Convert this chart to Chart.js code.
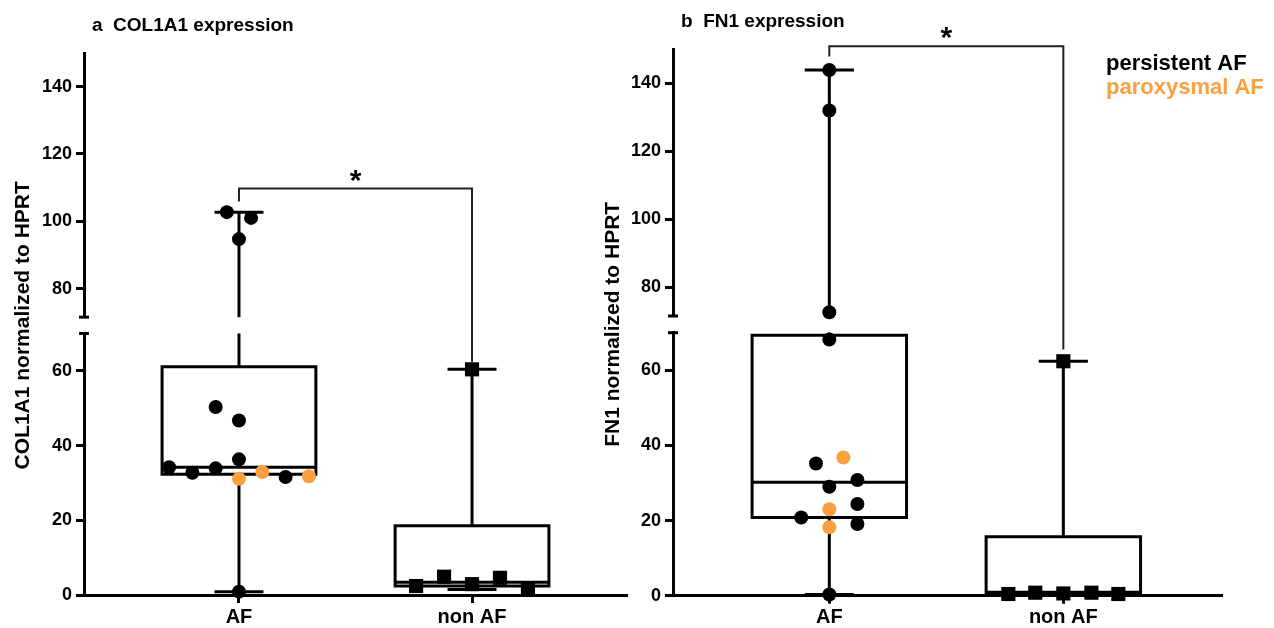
<!DOCTYPE html>
<html>
<head>
<meta charset="utf-8">
<script src="https://cdn.jsdelivr.net/npm/chart.js@4.4.1/dist/chart.umd.min.js"></script>
<style>
html,body{margin:0;padding:0;background:#fff;}
#wrap{position:relative;width:1274px;height:628px;overflow:hidden;background:#fff;}
.panel{position:absolute;top:0;height:628px;}
#pa{left:0;width:640px;}
#pb{left:590px;width:684px;}
</style>
</head>
<body>
<div id="wrap">
  <div class="panel" id="pa"><canvas id="ca"></canvas></div>
  <div class="panel" id="pb"><canvas id="cb"></canvas></div>
</div>
<script>
// ---------- data ----------
const categories = ['AF', 'non AF'];
const legendLabels = ['persistent AF', 'paroxysmal AF'];
const yTicksLow = [0, 20, 40, 60];
const yTicksHigh = [80, 100, 120, 140];
const axisBreak = [70, 71.5];   // top of lower segment, bottom of upper segment
const axisTop = 150;

// a  COL1A1
const colHeader = 'a  COL1A1 expression';
const colYTitle = 'COL1A1 normalized to HPRT';
const colAfPersistent = [102.7, 101.0, 94.7, 50.3, 46.7, 36.3, 34.2, 33.9, 32.7, 31.6, 0.9];
const colAfParoxysmal = [31.1, 32.9, 31.8];
const colNonAf = [60.4, 2.4, 4.9, 2.9, 4.6, 1.5];
const colAfBox = [0.9, 32.3, 34.2, 61.1, 102.7];    // min, q1, median, q3, max
const colNonAfBox = [1.5, 2.4, 3.4, 18.5, 60.4];
const colSig = [105.9, 109.7, 62.4];                // left leg end, bar, right leg end

// b  FN1
const fnHeader = 'b  FN1 expression';
const fnYTitle = 'FN1 normalized to HPRT';
const fnAfPersistent = [143.9, 132.0, 72.6, 68.2, 35.2, 29.0, 30.8, 24.4, 20.8, 19.1, 0.3];
const fnAfParoxysmal = [36.8, 23.0, 18.2];
const fnNonAf = [62.4, 0.45, 0.8, 0.6, 0.8, 0.45];
const fnAfBox = [0.3, 20.8, 30.2, 69.3, 143.9];
const fnNonAfBox = [0.3, 0.4, 0.9, 15.7, 62.4];
const fnSig = [147.9, 150.9, 65.5];

// horizontal jitter of the dots (layout only)
const colAfPersistentJitter = [-0.052, 0.052, 0, -0.1, 0, 0, -0.3, -0.1, -0.2, 0.2, 0];
const colAfParoxysmalJitter = [0, 0.1, 0.3];
const colNonAfJitter = [0, -0.24, -0.12, 0, 0.12, 0.24];
const fnAfPersistentJitter = [0, 0, 0, 0, -0.057, 0, 0.12, 0.12, -0.12, 0.12, 0];
const fnAfParoxysmalJitter = [0.06, 0, 0];
const fnNonAfJitter = [0, -0.235, -0.12, 0, 0.12, 0.235];

// ---------- styling ----------
const FONT = "'Liberation Sans', Arial, Helvetica, sans-serif";
const BLACK = '#000000';
const ORANGE = '#F9A13F';
const BOX_HALF = 0.33;
const CAP_HALF = 0.105;

Chart.defaults.font.family = FONT;
Chart.defaults.font.weight = 'bold';
Chart.defaults.color = '#000';

function axisFor(v) { return v <= axisBreak[0] ? 'yLow' : 'yHigh'; }

function lineDs(pts, axis, width, cap, color) {
  return {
    type: 'scatter', showLine: true, data: pts, yAxisID: axis,
    borderColor: color || BLACK, borderWidth: width || 3,
    pointRadius: 0, pointHoverRadius: 0, fill: false, tension: 0,
    borderJoinStyle: 'miter', borderCapStyle: cap || 'butt',
    order: 1, clip: false
  };
}

function splitVertical(x, v0, v1) {
  const lo = Math.min(v0, v1), hi = Math.max(v0, v1);
  if (hi <= axisBreak[0]) return [{axis: 'yLow', pts: [{x, y: lo}, {x, y: hi}]}];
  if (lo >= axisBreak[1]) return [{axis: 'yHigh', pts: [{x, y: lo}, {x, y: hi}]}];
  return [
    {axis: 'yLow', pts: [{x, y: lo}, {x, y: axisBreak[0]}]},
    {axis: 'yHigh', pts: [{x, y: axisBreak[1]}, {x, y: hi}]}
  ];
}

function boxDatasets(c, box) {
  const [mn, q1, med, q3, mx] = box;
  const ds = [];
  ds.push(lineDs([{x: c - BOX_HALF, y: q1}, {x: c + BOX_HALF, y: q1}, {x: c + BOX_HALF, y: q3},
                  {x: c - BOX_HALF, y: q3}, {x: c - BOX_HALF, y: q1}], axisFor(q3), 3, 'square'));
  ds.push(lineDs([{x: c - BOX_HALF, y: med}, {x: c + BOX_HALF, y: med}], axisFor(med)));
  splitVertical(c, mn, q1).forEach(s => ds.push(lineDs(s.pts, s.axis)));
  splitVertical(c, q3, mx).forEach(s => ds.push(lineDs(s.pts, s.axis)));
  ds.push(lineDs([{x: c - CAP_HALF, y: mn}, {x: c + CAP_HALF, y: mn}], axisFor(mn)));
  ds.push(lineDs([{x: c - CAP_HALF, y: mx}, {x: c + CAP_HALF, y: mx}], axisFor(mx)));
  return ds;
}

function pointDatasets(values, jitter, c, color, style, radius) {
  const low = [], high = [];
  values.forEach((v, i) => (axisFor(v) === 'yLow' ? low : high).push({x: c + jitter[i], y: v}));
  return [[low, 'yLow'], [high, 'yHigh']].filter(p => p[0].length).map(([d, ax]) => ({
    type: 'scatter', data: d, yAxisID: ax, showLine: false,
    pointStyle: style, pointRadius: radius, pointHoverRadius: radius,
    pointBackgroundColor: color, pointBorderColor: color, pointBorderWidth: 0,
    order: 0, clip: false
  }));
}

const decor = {
  id: 'decor',
  afterDraw(chart, args, opts) {
    const {ctx, chartArea, scales} = chart;
    const yp = v => (v <= axisBreak[0] ? scales.yLow : scales.yHigh).getPixelForValue(v);
    const axX = scales.yLow.right;
    ctx.save();
    // caps at the axis break
    ctx.strokeStyle = '#000'; ctx.lineWidth = 3; ctx.lineCap = 'butt';
    [[scales.yLow, axisBreak[0]], [scales.yHigh, axisBreak[1]]].forEach(([s, v]) => {
      const y = s.getPixelForValue(v);
      ctx.beginPath(); ctx.moveTo(axX - 5, y); ctx.lineTo(axX + 5, y); ctx.stroke();
    });
    // significance bracket
    const x1 = scales.x.getPixelForValue(1), x2 = scales.x.getPixelForValue(2);
    const [lb, top, rb] = opts.sig;
    ctx.lineWidth = 2; ctx.strokeStyle = '#222'; ctx.lineJoin = 'miter';
    ctx.beginPath();
    ctx.moveTo(x1, yp(lb)); ctx.lineTo(x1, yp(top)); ctx.lineTo(x2, yp(top)); ctx.lineTo(x2, yp(rb));
    ctx.stroke();
    ctx.fillStyle = '#000'; ctx.font = `bold 30px ${FONT}`;
    ctx.textAlign = 'center'; ctx.textBaseline = 'alphabetic';
    ctx.fillText('*', (x1 + x2) / 2, yp(top) + 1);
    // panel header
    ctx.font = `bold 19px ${FONT}`; ctx.textAlign = 'left';
    ctx.fillText(opts.header, chartArea.left + 8, opts.headerBaseline);
    // legend
    if (opts.legend) {
      ctx.font = `bold 22px ${FONT}`;
      ctx.fillStyle = BLACK; ctx.fillText(legendLabels[0], chartArea.right - 116, 69.5);
      ctx.fillStyle = ORANGE; ctx.fillText(legendLabels[1], chartArea.right - 116, 94);
    }
    ctx.restore();
  }
};

function yAxisBase(w) {
  return {
    type: 'linear', axis: 'y', position: 'left', stack: 'y',
    grid: {drawOnChartArea: false, drawTicks: true, tickLength: 8, tickWidth: 3, tickColor: '#000'},
    border: {display: true, width: 3, color: '#000'},
    ticks: {font: {size: 18, weight: 'bold'}, color: '#000', padding: 4},
    afterFit: s => { s.width = w; }
  };
}

function makeChart(id, p) {
  const datasets = [
    ...pointDatasets(p.afP, p.afPJ, 1, BLACK, 'circle', 7),
    ...pointDatasets(p.afX, p.afXJ, 1, ORANGE, 'circle', 7),
    ...pointDatasets(p.non, p.nonJ, 2, BLACK, 'rect', 10),
    ...boxDatasets(1, p.afBox),
    ...boxDatasets(2, p.nonBox)
  ];
  return new Chart(document.getElementById(id), {
    type: 'scatter',
    data: {datasets},
    plugins: [decor],
    options: {
      responsive: true, maintainAspectRatio: false, animation: false, events: [],
      layout: {padding: p.pad},
      plugins: {
        legend: {display: false}, title: {display: false}, tooltip: {enabled: false},
        decor: {sig: p.sig, header: p.header, headerBaseline: p.headerBaseline, legend: p.legend}
      },
      scales: {
        x: {
          type: 'linear', position: 'bottom', min: p.xMin, max: p.xMax,
          afterBuildTicks: s => { s.ticks = categories.map((c, i) => ({value: i + 1})); },
          ticks: {callback: v => categories[Math.round(v) - 1], font: {size: 20, weight: 'bold'}, color: '#000',
                  padding: 2, maxRotation: 0, autoSkip: false},
          grid: {drawOnChartArea: false, drawTicks: true, tickLength: 8, tickWidth: 3, tickColor: '#000'},
          border: {display: true, width: 3, color: '#000'},
          afterFit: s => { s.height = p.xAxisH; }
        },
        yLow: Object.assign(yAxisBase(p.axisW), {
          min: 0, max: axisBreak[0], stackWeight: p.weights[0],
          afterBuildTicks: s => { s.ticks = yTicksLow.map(v => ({value: v})); }
        }),
        yGap: Object.assign(yAxisBase(p.axisW), {
          min: axisBreak[0], max: axisBreak[1], stackWeight: p.weights[1],
          grid: {display: false}, border: {display: false}, ticks: {display: false},
          title: {display: true, text: p.yTitle, font: {size: 21, weight: 'bold'}, color: '#000',
                  padding: {top: 4, bottom: 4}}
        }),
        yHigh: Object.assign(yAxisBase(p.axisW), {
          min: axisBreak[1], max: axisTop, stackWeight: p.weights[2],
          afterBuildTicks: s => { s.ticks = yTicksHigh.map(v => ({value: v})); }
        })
      }
    }
  });
}

makeChart('ca', {
  header: colHeader, headerBaseline: 30.7, yTitle: colYTitle,
  afP: colAfPersistent, afPJ: colAfPersistentJitter,
  afX: colAfParoxysmal, afXJ: colAfParoxysmalJitter,
  non: colNonAf, nonJ: colNonAfJitter,
  afBox: colAfBox, nonBox: colNonAfBox, sig: colSig,
  xMin: 0.335, xMax: 2.665,
  pad: {left: 7, top: 53, right: 13, bottom: 0}, axisW: 77, xAxisH: 33,
  weights: [261.7, 16.3, 264.3], legend: false
});

makeChart('cb', {
  header: fnHeader, headerBaseline: 26.7, yTitle: fnYTitle,
  afP: fnAfPersistent, afPJ: fnAfPersistentJitter,
  afX: fnAfParoxysmal, afXJ: fnAfParoxysmalJitter,
  non: fnNonAf, nonJ: fnNonAfJitter,
  afBox: fnAfBox, nonBox: fnNonAfBox, sig: fnSig,
  xMin: 0.332, xMax: 2.678,
  pad: {left: 7, top: 49.3, right: 52, bottom: 0}, axisW: 76, xAxisH: 32.3,
  weights: [263, 16.7, 266.7], legend: true
});
</script>
</body>
</html>
